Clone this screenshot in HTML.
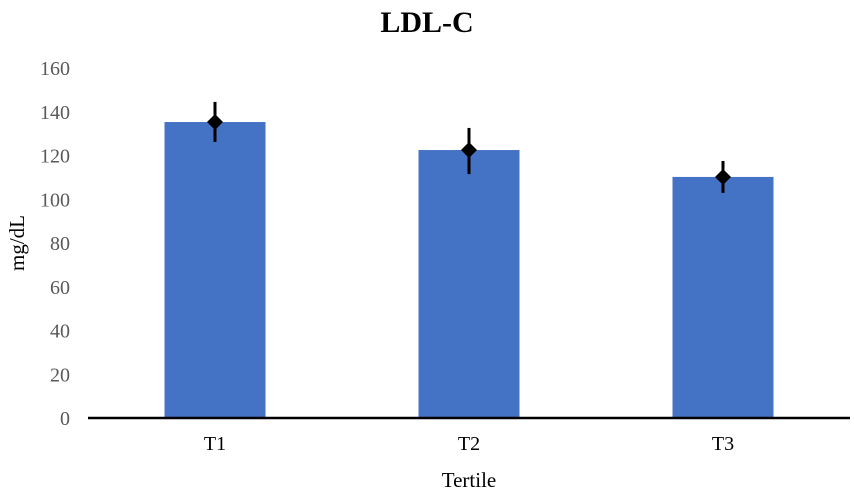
<!DOCTYPE html>
<html><head><meta charset="utf-8"><style>
body{margin:0;background:#fff;width:854px;height:496px;overflow:hidden}
svg{font-family:"Liberation Serif",serif}
</style></head><body>
<svg id="chart" width="854" height="496">
<text x="427" y="32" text-anchor="middle" font-size="30" font-weight="bold">LDL-C</text>
<text transform="translate(24,243) rotate(-90)" text-anchor="middle" font-size="21">mg/dL</text>
<text x="469" y="487" text-anchor="middle" font-size="21">Tertile</text>
<g id="marks"></g>
</svg>
<script>
const categories=["T1","T2","T3"];
const means=[135.3,122.5,110.2];
const errHigh=[144.5,132.6,117.5];
const errLow=[126.2,111.5,102.9];
const yTicks=[0,20,40,60,80,100,120,140,160];
const ns="http://www.w3.org/2000/svg";
const g=document.getElementById('marks');
const y0=418,pxPer=350/160,xL=88,xR=850;
const y=v=>y0-v*pxPer;
const band=(xR-xL)/categories.length;
const xc=i=>xL+band*(i+0.5);
function mk(t,a){const e=document.createElementNS(ns,t);for(const k in a)e.setAttribute(k,a[k]);g.appendChild(e);return e;}
yTicks.forEach(v=>{
 const t=mk('text',{x:70,y:y(v)+7,'text-anchor':'end','font-size':20,fill:'#595959'});
 t.textContent=v;
 
 
});
categories.forEach((c,i)=>{
 const cx=xc(i);
 const b=mk('rect',{x:cx-50.5,y:y(means[i]),width:101,height:y0-y(means[i]),fill:'#4472c4'});
 
 
 const l=mk('line',{x1:cx,x2:cx,y1:y(errHigh[i]),y2:y(errLow[i]),stroke:'#000','stroke-width':3});
 
 
 const m=y(means[i]);
 const d=mk('polygon',{points:`${cx},${m-8} ${cx+8},${m} ${cx},${m+8} ${cx-8},${m}`,fill:'#000'});
 
 
 const t=mk('text',{x:cx,y:450,'text-anchor':'middle','font-size':20});
 t.textContent=c;
 
 
});
const ax=mk('line',{x1:xL,x2:xR,y1:y0,y2:y0,stroke:'#000','stroke-width':2.5});


</script>
</body></html>
